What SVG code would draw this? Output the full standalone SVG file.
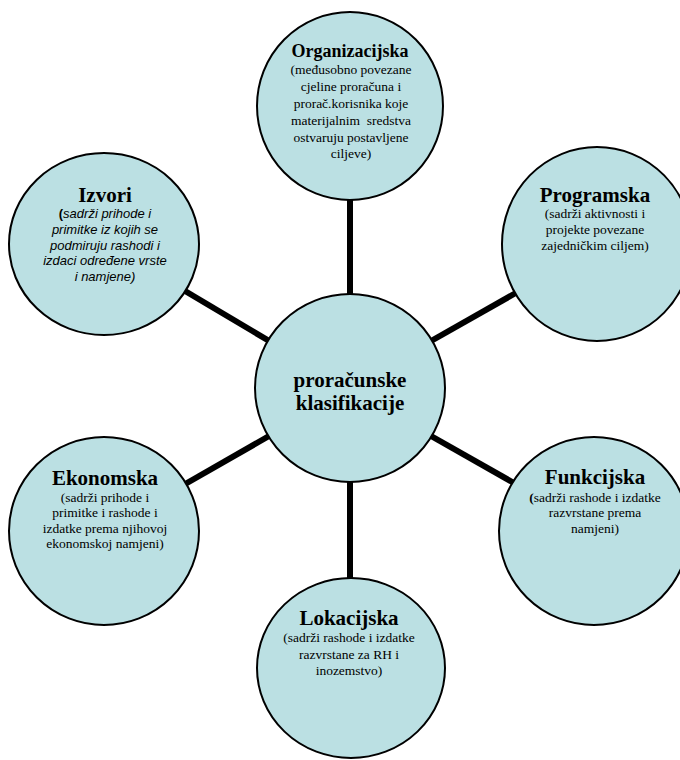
<svg xmlns="http://www.w3.org/2000/svg" width="680" height="760" viewBox="0 0 680 760">
<style>
.node{fill:#BBE0E3;stroke:#000;stroke-width:2}
.conn{stroke:#000;stroke-width:6;fill:none}
text{font-family:"Liberation Serif","Times New Roman",serif;fill:#000;text-anchor:middle}
.t{font-weight:bold;font-size:21px}
.s{font-size:13.5px}
.i{font-family:"Liberation Sans",Arial,sans-serif;font-style:italic;font-size:13px}
</style>
<rect width="680" height="760" fill="#fff"/>
<g id="connectors">
<line class="conn" x1="350" y1="190" x2="350" y2="300"/>
<line class="conn" x1="350" y1="475" x2="350" y2="585"/>
<line class="conn" x1="180" y1="288" x2="276" y2="345"/>
<line class="conn" x1="521" y1="290" x2="424" y2="345"/>
<line class="conn" x1="180" y1="487" x2="276" y2="432"/>
<line class="conn" x1="424" y1="432" x2="521" y2="487"/>
</g>
<g id="center">
<ellipse class="node" cx="350" cy="388" rx="95" ry="94"/>
<text class="t" x="350" y="387">proračunske</text>
<text class="t" x="350" y="410">klasifikacije</text>
</g>
<g id="organizacijska">
<ellipse class="node" cx="350" cy="106" rx="93" ry="94"/>
<text class="t" style="font-size:18px" x="350" y="57">Organizacijska</text>
<text class="s" x="351" y="74">(međusobno povezane</text>
<text class="s" x="351" y="91">cjeline proračuna i</text>
<text class="s" x="351" y="108">prorač.korisnika koje</text>
<text class="s" x="351" y="125" xml:space="preserve">materijalnim  sredstva</text>
<text class="s" x="351" y="142">ostvaruju postavljene</text>
<text class="s" x="351" y="158">ciljeve)</text>
</g>
<g id="izvori">
<ellipse class="node" cx="104" cy="244" rx="95" ry="91"/>
<text class="t" x="105" y="202">Izvori</text>
<text class="i" x="105" y="218"><tspan style="font-style:normal;font-weight:bold">(</tspan>sadrži prihode i</text>
<text class="i" x="105" y="234">primitke iz kojih se</text>
<text class="i" x="105" y="250">podmiruju rashodi i</text>
<text class="i" x="105" y="265">izdaci određene vrste</text>
<text class="i" x="105" y="281">i namjene)</text>
</g>
<g id="programska">
<ellipse class="node" cx="597" cy="244" rx="95" ry="97"/>
<text class="t" x="595" y="202">Programska</text>
<text class="s" x="595" y="218">(sadrži aktivnosti i</text>
<text class="s" x="595" y="234">projekte povezane</text>
<text class="s" x="595" y="250">zajedničkim ciljem)</text>
</g>
<g id="ekonomska">
<ellipse class="node" cx="104" cy="531" rx="95" ry="94"/>
<text class="t" x="105" y="485">Ekonomska</text>
<text class="s" x="105" y="502">(sadrži prihode i</text>
<text class="s" x="105" y="517">primitke i rashode i</text>
<text class="s" x="105" y="533">izdatke prema njihovoj</text>
<text class="s" x="105" y="548">ekonomskoj namjeni)</text>
</g>
<g id="funkcijska">
<ellipse class="node" cx="594" cy="531" rx="95" ry="94"/>
<text class="t" x="595" y="484">Funkcijska</text>
<text class="s" x="595" y="502"><tspan font-weight="bold">(</tspan>sadrži rashode i izdatke</text>
<text class="s" x="595" y="517">razvrstane prema</text>
<text class="s" x="595" y="533">namjeni)</text>
</g>
<g id="lokacijska">
<ellipse class="node" cx="351" cy="668" rx="94" ry="90"/>
<text class="t" x="349" y="625">Lokacijska</text>
<text class="s" x="349" y="642">(sadrži rashode i izdatke</text>
<text class="s" x="349" y="659">razvrstane za RH i</text>
<text class="s" x="349" y="675">inozemstvo)</text>
</g>
</svg>
